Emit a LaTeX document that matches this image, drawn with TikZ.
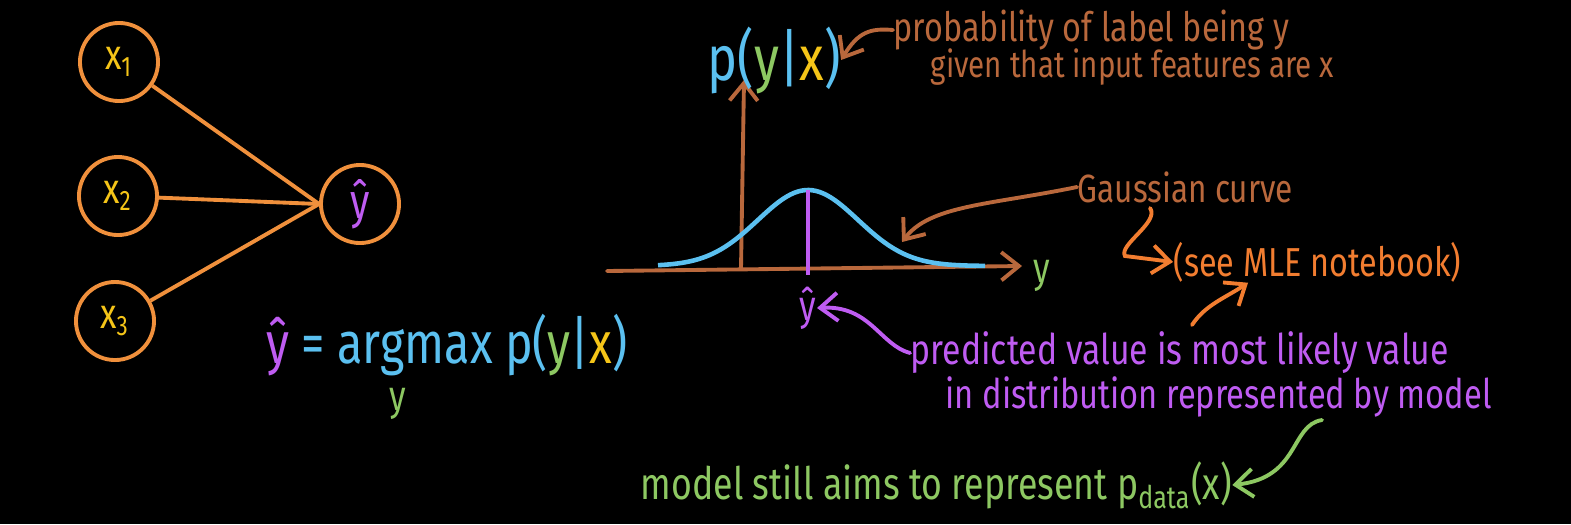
\documentclass[tikz,border=0pt]{standalone}
\usepackage{fontspec}
\setmainfont{Fira Sans}
\newfontfamily\hand[FakeStretch=0.8]{Fira Sans}
\usetikzlibrary{arrows.meta, positioning, calc}
\definecolor{ring}{HTML}{F0903C}
\definecolor{inp}{HTML}{F5C518}
\definecolor{pred}{HTML}{BF5CF2}
\definecolor{prob}{HTML}{5BC0F0}
\definecolor{lbl}{HTML}{8DC862}
\definecolor{note}{HTML}{B9683C}
\definecolor{hint}{HTML}{F27D30}

\begin{document}
\begin{tikzpicture}[x=0.01cm, y=-0.01cm,
  unit/.style={circle, draw=ring, line width=1.1pt, minimum size=0.78cm,
               inner sep=0pt, font=\hand\fontsize{12}{12}\selectfont},
  edge/.style={draw=ring, line width=1.1pt},
  txt/.style={inner sep=0pt, font=\hand\fontsize{11.5}{12}\selectfont},
  big/.style={inner sep=0pt, font=\hand\fontsize{16.6}{17}\selectfont},
  arr/.style={-{Straight Barb[length=5pt, width=8pt]}, line width=1.1pt, line cap=round}
]
  \fill[black] (0,0) rectangle (1571,524);
  \useasboundingbox (0,0) rectangle (1571,524);

  % network
  \node[unit] (x1) at (119,62)  {\color{inp}x\textsubscript{1}};
  \node[unit] (x2) at (118,196) {\color{inp}x\textsubscript{2}};
  \node[unit] (x3) at (115,321) {\color{inp}x\textsubscript{3}};
  \node[unit, font=\hand\fontsize{14}{14}\selectfont] (yh) at (360,204) {\color{pred}ŷ};
  \draw[edge] (x1) -- (yh.west);
  \draw[edge] (x2) -- (yh.west);
  \draw[edge] (x3) -- (yh.west);

  % decision rule
  \node[big] (rule) at (447,345) {\color{pred}ŷ \color{prob}= argmax p(\color{lbl}y\color{prob}|\color{inp}x\color{prob})};
  \node[big, font=\hand\fontsize{12}{12}\selectfont, text=lbl] (argy) at (398,404) {y};

  % distribution
  \coordinate (o)    at (741,268);
  \coordinate (ytop) at (744,80);
  \coordinate (xl)   at (607,271);
  \coordinate (xr)   at (1022,266);
  \coordinate (peak) at (808,190);
  \coordinate (foot) at (808,275);
  \draw[arr, note] (o) -- (ytop);
  \draw[arr, note] (xl) -- (xr);
  \draw[prob, line width=1.3pt] plot[domain=658:985, samples=90, smooth]
    (\x, {266-76*exp(-0.5*((\x-808)/50)^2)});
  \draw[pred, line width=1.3pt] (peak) -- (foot);
  \node[big, font=\hand\fontsize{12}{12}\selectfont, text=lbl] (ylab) at (1042,276) {y};
  \node[big, font=\hand\fontsize{12}{12}\selectfont, text=pred] (yax) at (808,308) {ŷ};
  \node[big, font=\hand\fontsize{18}{18}\selectfont] (pyx) at (774,60) {\color{prob}p(\color{lbl}y\color{prob}|\color{inp}x\color{prob})};

  % notes
  \node[txt, anchor=west, text=note, font=\hand\fontsize{11.5}{12}\selectfont] (probA) at (893,30) {probability of label being y};
  \node[txt, anchor=west, text=note, font=\hand\fontsize{10.5}{12}\selectfont] (probB) at (930,67) {given that input features are x};
  \draw[arr, note] (probA.west) .. controls (870,28) and (858,32) .. (pyx.east);

  \node[txt, anchor=west, text=note, font=\hand\fontsize{11.2}{12}\selectfont] (gauss) at (1077,187) {Gaussian curve};
  \draw[arr, note] (gauss.west) .. controls (990,205) and (930,205) .. (902,242);

  \node[txt, anchor=west, text=hint] (mle) at (1173,262) {(see MLE notebook)};
  \coordinate (hook) at (1150,208);
  \draw[arr, hint] (hook) .. controls (1160,222) and (1118,245) .. (1125,256) -- (mle.west);

  \node[txt, anchor=west, text=pred, font=\hand\fontsize{12}{12}\selectfont] (predA) at (910,353) {predicted value is most likely value};
  \node[txt, anchor=west, text=pred, font=\hand\fontsize{11.6}{12}\selectfont] (predB) at (945,397) {in distribution represented by model};
  \draw[arr, pred] (predA.west) .. controls (880,345) and (870,305) .. (yax.east);
  \coordinate (tail) at (1192,325);
  \draw[arr, hint] (tail) .. controls (1205,305) and (1225,298) .. (mle.south -| 1248,0);

  \node[txt, anchor=west, text=lbl, font=\hand\fontsize{12.7}{13}\selectfont] (aim) at (640,485) {model still aims to represent p\textsubscript{data}(x)};
  \coordinate (bend) at (1322,420);
  \draw[arr, lbl] (bend) .. controls (1290,425) and (1300,478) .. (aim.east);
\end{tikzpicture}
\end{document}
